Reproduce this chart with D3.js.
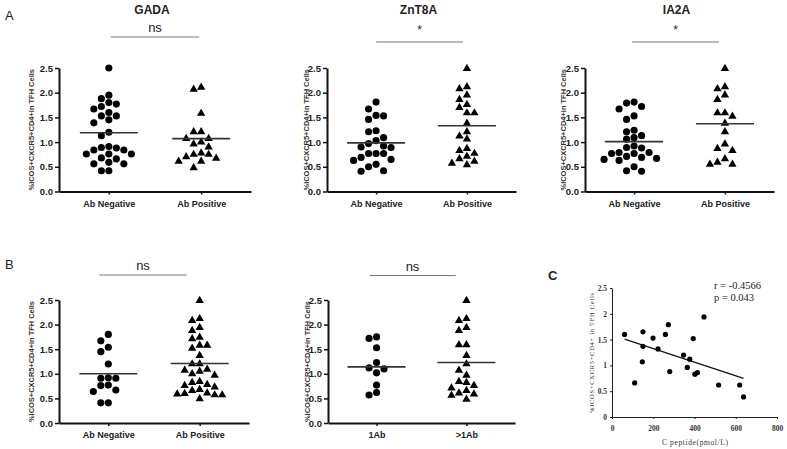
<!DOCTYPE html>
<html><head><meta charset="utf-8">
<script src="https://cdn.jsdelivr.net/npm/d3@7"></script>
<style>body{margin:0;background:#fff} svg{display:block}</style>
</head><body><svg id="c" width="787" height="449"></svg>
<script>
// ---------- data ----------
const yTicks = [0, 0.5, 1.0, 1.5, 2.0, 2.5];
const abCats = ["Ab Negative", "Ab Positive"];
const countCats = ["1Ab", ">1Ab"];

const gadaNeg = [2.50,1.95,1.88,1.80,1.77,1.72,1.67,1.60,1.53,1.53,1.45,1.39,1.20,1.13,0.91,0.89,0.88,0.84,0.84,0.76,0.76,0.76,0.68,0.66,0.59,0.56,0.56,0.42,0.42];
const gadaPos = [2.12,2.08,1.59,1.22,1.22,1.08,1.08,1.01,0.97,0.91,0.79,0.76,0.76,0.71,0.68,0.62,0.62,0.49];
const gadaMeans = [1.19, 1.07];

const znt8Neg = [1.81,1.67,1.54,1.53,1.46,1.23,1.21,1.09,1.03,0.97,0.92,0.90,0.89,0.77,0.77,0.77,0.69,0.65,0.63,0.55,0.50,0.42,0.41];
const znt8Pos = [2.50,2.13,2.09,1.96,1.87,1.77,1.71,1.60,1.60,1.39,1.22,1.13,1.07,0.88,0.84,0.78,0.72,0.67,0.62,0.58,0.55];
const znt8Means = [0.985, 1.33];

const ia2Neg = [1.81,1.79,1.72,1.67,1.53,1.46,1.24,1.21,1.13,1.09,1.06,0.92,0.89,0.88,0.79,0.79,0.77,0.77,0.71,0.69,0.67,0.65,0.63,0.50,0.42,0.41];
const ia2Pos = [2.50,2.13,2.09,1.96,1.87,1.60,1.60,1.53,1.39,1.22,0.97,0.88,0.84,0.67,0.60,0.56,0.56];
const ia2Means = [1.01, 1.37];

const abNeg = [1.80,1.67,1.54,1.45,1.20,0.92,0.91,0.91,0.77,0.76,0.67,0.64,0.41,0.41];
const abPos = [2.50,2.13,2.09,1.95,1.89,1.75,1.72,1.59,1.59,1.53,1.38,1.21,1.21,1.10,1.08,1.06,1.01,0.98,0.85,0.83,0.79,0.77,0.74,0.69,0.67,0.62,0.61,0.60,0.58,0.58,0.50];
const abMeans = [1.00, 1.21];

const oneAb = [1.75,1.72,1.53,1.23,1.12,1.10,1.02,0.77,0.62,0.57];
const multiAb = [2.50,2.13,2.09,1.95,1.89,1.60,1.60,1.38,1.21,1.08,0.98,0.85,0.83,0.77,0.72,0.67,0.62,0.60,0.57,0.49];
const abCountMeans = [1.14, 1.23];

const cPeptide = [61,150,150,147,110,199,223,259,273,280,347,377,365,394,402,414,446,517,619,638];
const tfhC = [1.60,1.65,1.37,1.07,0.66,1.53,1.32,1.60,1.79,0.88,1.20,1.12,0.96,1.52,0.83,0.86,1.94,0.62,0.62,0.39];
const fitX = [61, 638];
const fitY = [1.51, 0.75];
const cxTicks = [0, 200, 400, 600, 800];
const cyTicks = [0, 0.5, 1, 1.5, 2, 2.5];

// ---------- drawing ----------
const svg = d3.select("#c");
const SANS = "'Liberation Sans', Arial, sans-serif";
const SERIF = "'Liberation Serif', 'DejaVu Serif', serif";
const YLAB = "%ICOS+CXCR5+CD4+in TFH Cells";

function swarm(vals, y, thr) {
  const idx = vals.map((v, i) => i).sort((a, b) => vals[b] - vals[a]);
  const placed = [], off = new Array(vals.length);
  for (const i of idx) {
    const py = y(vals[i]);
    for (let k = 0; k < 30; k++) {
      const c = k === 0 ? 0 : (k % 2 ? -Math.ceil(k / 2) : Math.ceil(k / 2));
      if (!placed.some(p => p.c === c && Math.abs(p.y - py) < thr)) {
        placed.push({c, y: py}); off[i] = c; break;
      }
    }
  }
  return off;
}

const panels = [
  {title: "GADA", cats: abCats, groups: [gadaNeg, gadaPos], means: gadaMeans, sig: "ns",
   left: 59, right: 251, top: 68, bottom: 191.5, barY: 37, barShift: 0, ylabOff: 28},
  {title: "ZnT8A", cats: abCats, groups: [znt8Neg, znt8Pos], means: znt8Means, sig: "*",
   left: 327, right: 516, top: 68, bottom: 191.5, barY: 42, barShift: -2, ylabOff: 21},
  {title: "IA2A", cats: abCats, groups: [ia2Neg, ia2Pos], means: ia2Means, sig: "*",
   left: 585, right: 774, top: 68, bottom: 191.5, barY: 42, barShift: -4, ylabOff: 22},
  {title: null, cats: abCats, groups: [abNeg, abPos], means: abMeans, sig: "ns",
   left: 59, right: 249, top: 300, bottom: 423, barY: 275, barShift: -11, ylabOff: 28},
  {title: null, cats: countCats, groups: [oneAb, multiAb], means: abCountMeans, sig: "ns",
   left: 328, right: 515, top: 300, bottom: 423, barY: 275.5, barShift: -9, ylabOff: 21}
];

panels.forEach(p => {
  const g = svg.append("g");
  const y = d3.scaleLinear().domain([0, 2.5]).range([p.bottom, p.top]);
  const x = d3.scalePoint().domain(p.cats).range([p.left, p.right]).padding(0.54);

  // y axis
  const ya = g.append("g").attr("transform", `translate(${p.left},0)`)
    .call(d3.axisLeft(y).tickValues(yTicks).tickFormat(d3.format(".1f")).tickSize(4).tickSizeOuter(0));
  ya.select(".domain").attr("stroke", "#111").attr("stroke-width", 2);
  ya.selectAll(".tick line").attr("stroke", "#111").attr("stroke-width", 1.5);
  ya.selectAll(".tick text").attr("x", -6).attr("font-family", SANS).attr("font-weight", "bold")
    .attr("font-size", 9.5).attr("fill", "#222");
  // x axis
  const xa = g.append("g").attr("transform", `translate(0,${p.bottom})`)
    .call(d3.axisBottom(x).tickSize(3).tickSizeOuter(0));
  xa.select(".domain").attr("stroke", "#111").attr("stroke-width", 2);
  xa.selectAll(".tick line").attr("stroke", "#111").attr("stroke-width", 1.5);
  xa.selectAll(".tick text").attr("y", 9).attr("font-family", SANS).attr("font-weight", "bold")
    .attr("font-size", 9).attr("fill", "#222");

  // y label
  g.append("text")
    .attr("transform", `translate(${p.left - p.ylabOff},${(p.top + p.bottom) / 2}) rotate(-90)`)
    .attr("text-anchor", "middle").attr("dominant-baseline", "central")
    .attr("font-family", SANS).attr("font-weight", "bold").attr("font-size", 8)
    .attr("textLength", (p.bottom - p.top) - 2).attr("lengthAdjust", "spacingAndGlyphs")
    .attr("fill", "#333").text(YLAB);

  // points
  const step = 7.5;
  p.groups.forEach((vals, gi) => {
    const offs = swarm(vals, y, 7);
    const cx = x(p.cats[gi]);
    const sym = d3.symbol().type(gi === 0 ? d3.symbolCircle : d3.symbolTriangle).size(gi === 0 ? 40 : 30);
    g.append("g").selectAll("path").data(vals).join("path")
      .attr("transform", (d, i) => `translate(${cx + offs[i] * step},${y(d) + (gi === 1 ? 0.5 : 0)})`)
      .attr("d", sym).attr("fill", "#000");
    // mean line
    g.append("line").attr("x1", cx - 29).attr("x2", cx + 29)
      .attr("y1", y(p.means[gi])).attr("y2", y(p.means[gi]))
      .attr("stroke", "#333").attr("stroke-width", 1.6);
  });

  // significance bar
  const b1 = x(p.cats[0]) + p.barShift + 2, b2 = x(p.cats[1]) + p.barShift - 2;
  g.append("line").attr("x1", b1).attr("x2", b2).attr("y1", p.barY).attr("y2", p.barY)
    .attr("stroke", "#777").attr("stroke-width", 1.2);
  g.append("text").attr("x", (b1 + b2) / 2).attr("y", p.barY - (p.sig === "*" ? 8 : 5))
    .attr("text-anchor", "middle").attr("font-family", SANS)
    .attr("font-size", p.sig === "*" ? 12 : 13).attr("fill", "#222").text(p.sig);

  if (p.title) {
    g.append("text").attr("x", (p.left + p.right) / 2 - 3).attr("y", 14)
      .attr("text-anchor", "middle").attr("font-family", SANS).attr("font-weight", "bold")
      .attr("font-size", 12).attr("fill", "#222").text(p.title);
  }
});

// panel letters
svg.append("text").attr("x", 5).attr("y", 20).attr("font-family", SANS).attr("font-size", 13).attr("fill", "#222").text("A");
svg.append("text").attr("x", 5).attr("y", 269).attr("font-family", SANS).attr("font-size", 13).attr("fill", "#222").text("B");
svg.append("text").attr("x", 548).attr("y", 280).attr("font-family", SANS).attr("font-weight", "bold").attr("font-size", 13).attr("fill", "#222").text("C");

// ---------- panel C scatter ----------
(function () {
  const g = svg.append("g");
  const x = d3.scaleLinear().domain([0, 800]).range([612, 777]);
  const y = d3.scaleLinear().domain([0, 2.5]).range([417, 288]);
  const ya = g.append("g").attr("transform", "translate(612,0)")
    .call(d3.axisLeft(y).tickValues(cyTicks).tickFormat(d3.format("")).tickSize(2).tickSizeOuter(0));
  const xa = g.append("g").attr("transform", "translate(0,417)")
    .call(d3.axisBottom(x).tickValues(cxTicks).tickFormat(d3.format("")).tickSize(2).tickSizeOuter(0));
  [ya, xa].forEach(a => {
    a.select(".domain").attr("stroke", "#222").attr("stroke-width", 1);
    a.selectAll(".tick line").attr("stroke", "#222");
    a.selectAll(".tick text").attr("font-family", SERIF).attr("font-size", 7.5)
      .attr("font-weight", "bold").attr("fill", "#333");
  });
  ya.selectAll(".tick text").attr("x", -5);
  xa.selectAll(".tick text").attr("y", 9);

  g.append("text").attr("transform", "translate(591,353) rotate(-90)")
    .attr("text-anchor", "middle").attr("dominant-baseline", "central")
    .attr("font-family", SERIF).attr("font-size", 6.5).attr("fill", "#333")
    .attr("textLength", 120).attr("lengthAdjust", "spacing")
    .text("%ICOS+CXCR5+CD4+ in TFH Cells");
  g.append("text").attr("x", 695).attr("y", 445).attr("text-anchor", "middle")
    .attr("font-family", SERIF).attr("font-size", 7.5).attr("fill", "#333")
    .attr("textLength", 66).attr("lengthAdjust", "spacing")
    .text("C peptide(pmol/L)");

  g.append("line").attr("x1", x(fitX[0])).attr("x2", x(fitX[1]))
    .attr("y1", y(fitY[0])).attr("y2", y(fitY[1]))
    .attr("stroke", "#111").attr("stroke-width", 1.3);

  g.append("g").selectAll("circle").data(cPeptide).join("circle")
    .attr("cx", d => x(d)).attr("cy", (d, i) => y(tfhC[i])).attr("r", 2.6).attr("fill", "#000");

  g.append("text").attr("x", 714).attr("y", 289).attr("font-family", SERIF).attr("font-size", 10.5)
    .attr("fill", "#222").text("r = -0.4566");
  g.append("text").attr("x", 714).attr("y", 301).attr("font-family", SERIF).attr("font-size", 10.5)
    .attr("fill", "#222").text("p = 0.043");
})();
</script></body></html>
